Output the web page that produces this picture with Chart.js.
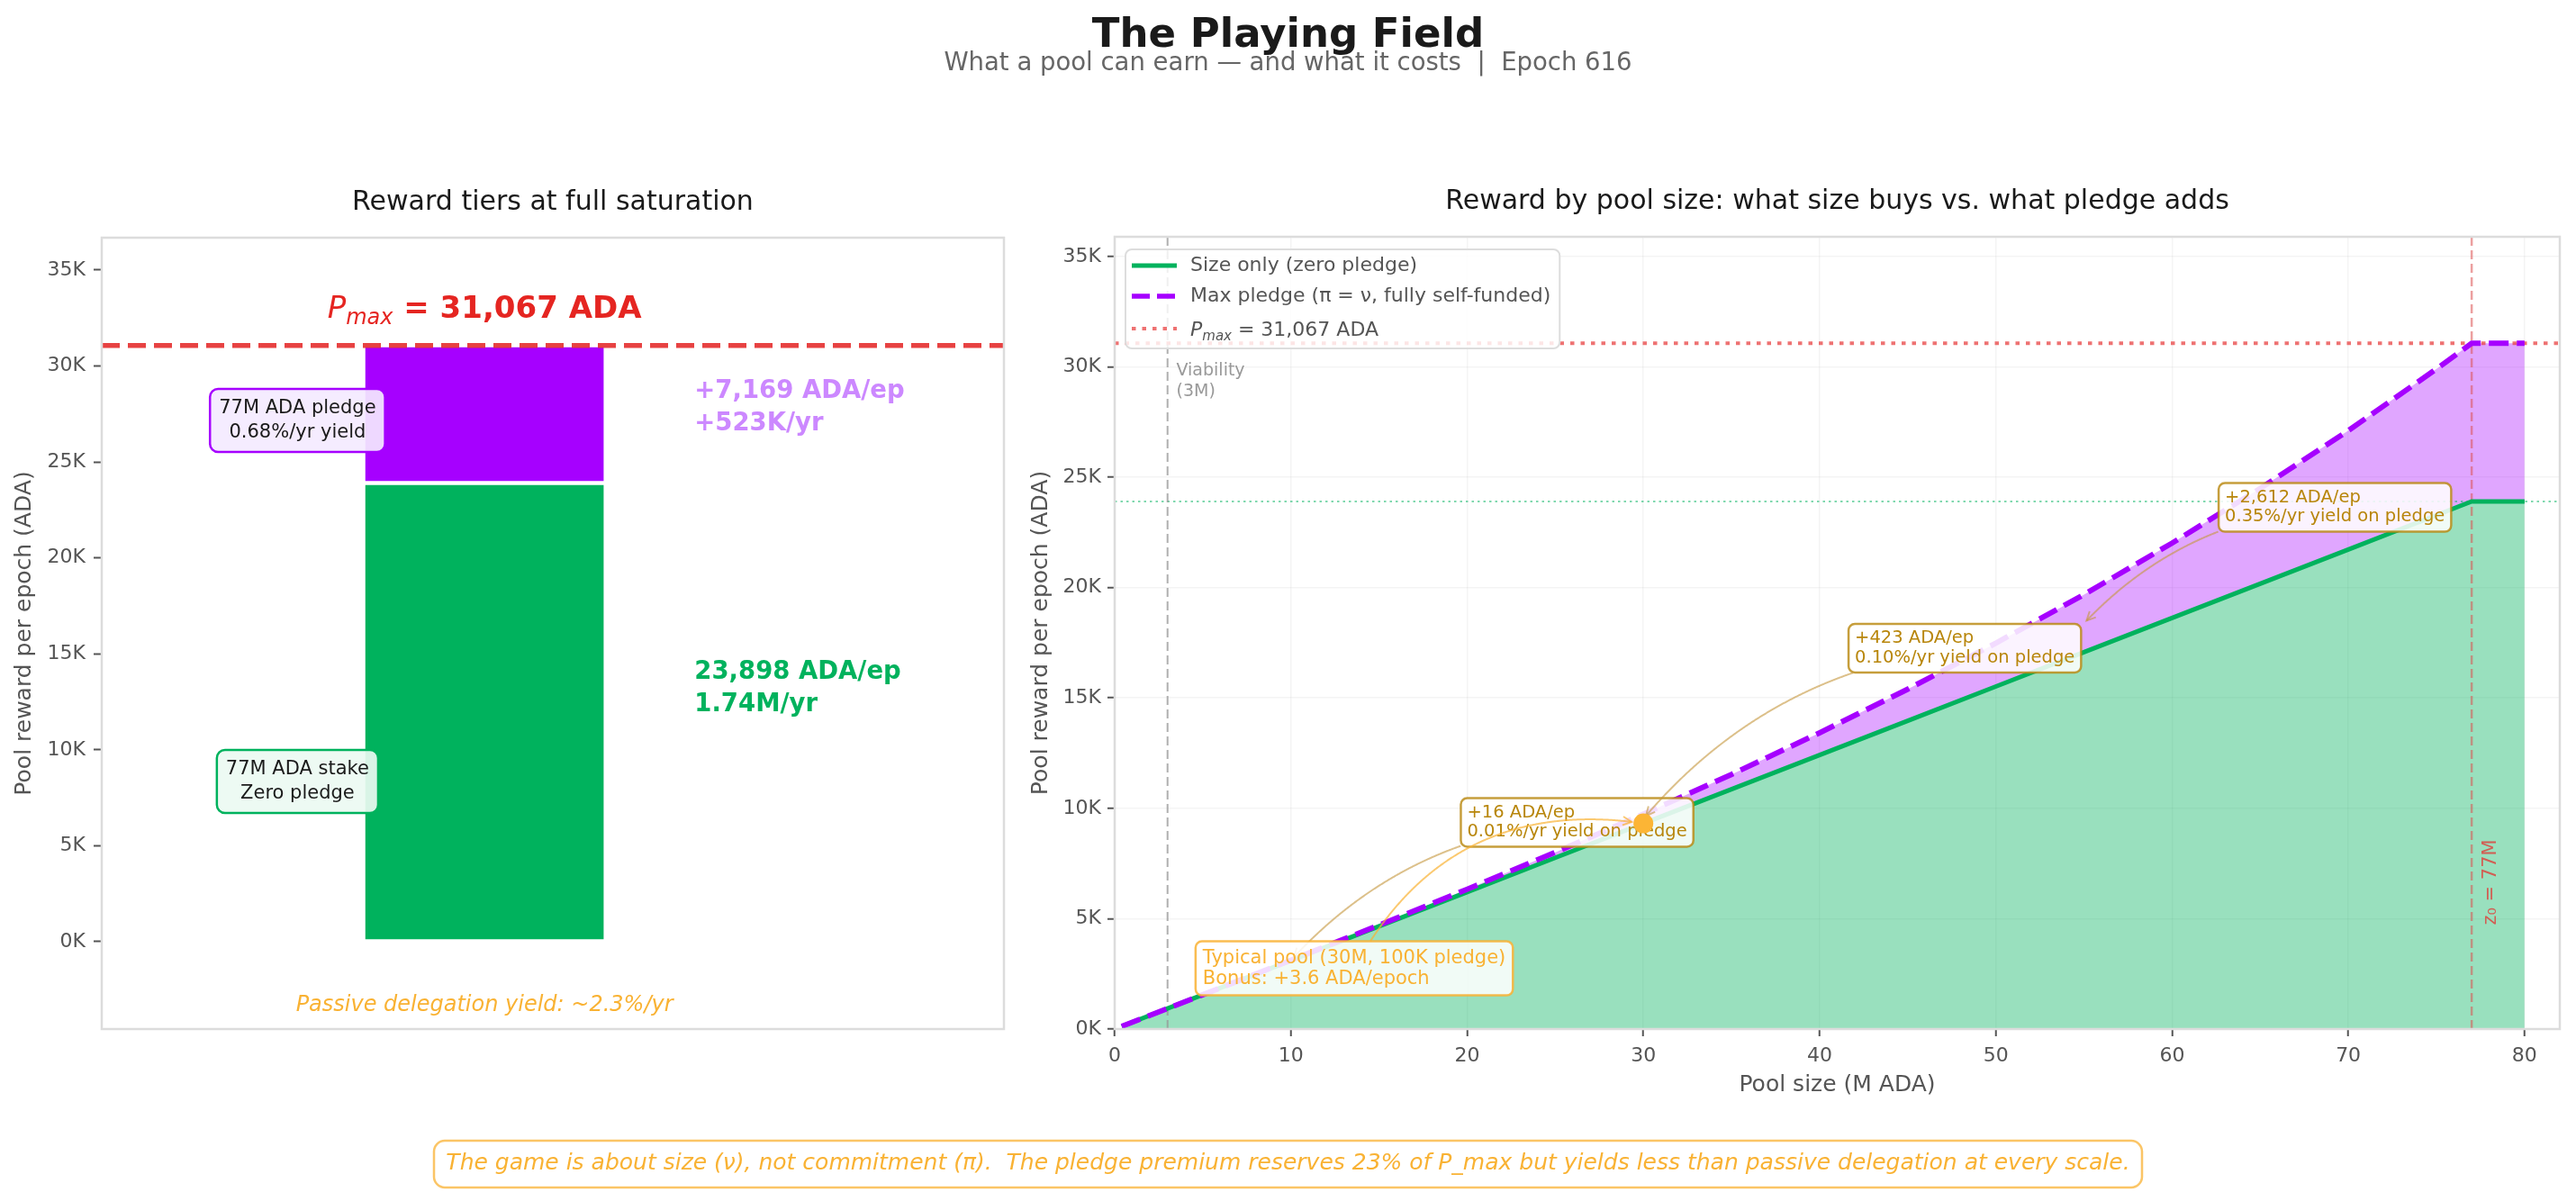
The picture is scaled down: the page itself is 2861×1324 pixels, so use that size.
<!DOCTYPE html>
<html>
<head>
<meta charset="utf-8">
<title>The Playing Field</title>
<script src="https://cdn.jsdelivr.net/npm/chart.js@4.4.1/dist/chart.umd.min.js"></script>
<style>
  html, body { margin: 0; padding: 0; background: #fff; }
  #wrap { position: relative; width: 2861px; height: 1324px; }
  canvas { position: absolute; left: 0; top: 0; }
</style>
</head>
<body>
<div id="wrap">
  <canvas id="tiers" width="2861" height="1324"></canvas>
  <canvas id="curve" width="2861" height="1324"></canvas>
</div>
<script>
// values (ADA per epoch)
const pMax = 31067;
const tierLow = [0, 23898];
const tierHigh = [23898, 31067];

// pool size (M ADA) vs reward per epoch
const poolSizeM = [0.4, 5, 10, 15, 20, 25, 30, 35, 40, 45, 50, 55, 60, 65, 70, 75, 77, 80];
const rewardSizeOnly = [124, 1552, 3104, 4655, 6207, 7759, 9311, 10863, 12414, 13966, 15518, 17070, 18622, 20174, 21725, 23277, 23898, 23898];
const rewardMaxPledge = [124, 1554, 3120, 4708, 6333, 8004, 9735, 11536, 13419, 15397, 17481, 19683, 22014, 24487, 27111, 29902, 31067, 31067];
const typicalSize = [30];
const typicalReward = [9315];
const viabilityM = 3;
const saturationM = 77;

const yTicks = [0, 5000, 10000, 15000, 20000, 25000, 30000, 35000];
const xTicks = [0, 10, 20, 30, 40, 50, 60, 70, 80];

const GREEN = '#00b25d';
const PURPLE = '#a600ff';
const ORANGE = '#f9b233';
const GOLD = '#b8860b';
const FAM = '"DejaVu Sans", sans-serif';
const f = (size, weight = 'normal', style = 'normal') => `${style} ${weight} ${size}px ${FAM}`;

// ---------- drawing helpers ----------
function roundRect(ctx, x, y, w, h, r) {
  ctx.beginPath();
  ctx.moveTo(x + r, y);
  ctx.arcTo(x + w, y, x + w, y + h, r);
  ctx.arcTo(x + w, y + h, x, y + h, r);
  ctx.arcTo(x, y + h, x, y, r);
  ctx.arcTo(x, y, x + w, y, r);
  ctx.closePath();
}

function textLines(ctx, lines, x, cy, o) {
  ctx.font = o.font;
  ctx.fillStyle = o.color;
  ctx.textAlign = o.align || 'left';
  ctx.textBaseline = 'middle';
  lines.forEach((l, i) => ctx.fillText(l, x, cy + (i - (lines.length - 1) / 2) * o.lh));
}

function noteBox(ctx, lines, x, cy, o) {
  ctx.font = o.font;
  const w = Math.max(...lines.map(l => ctx.measureText(l).width));
  const h = lines.length * o.lh;
  const left = o.align === 'center' ? x - w / 2 : x;
  const box = { x: left - o.padX, y: cy - h / 2 - o.padY, w: w + 2 * o.padX, h: h + 2 * o.padY };
  ctx.save();
  roundRect(ctx, box.x, box.y, box.w, box.h, o.r);
  ctx.fillStyle = o.fill;
  ctx.fill();
  ctx.lineWidth = o.lw;
  ctx.strokeStyle = o.edge;
  ctx.stroke();
  textLines(ctx, lines, x, cy, o);
  ctx.restore();
  return box;
}

// quadratic "arc3" arrow from box centre to target, clipped by the box
function curvedArrow(ctx, box, to, o) {
  const from = { x: box.x + box.w / 2, y: box.y + box.h / 2 };
  const dx = to.x - from.x, dy = to.y - from.y;
  const c = { x: (from.x + to.x) / 2 + o.rad * dy, y: (from.y + to.y) / 2 - o.rad * dx };
  const pts = [];
  for (let i = 0; i <= 400; i++) {
    const t = i / 400;
    const p = {
      x: (1 - t) * (1 - t) * from.x + 2 * (1 - t) * t * c.x + t * t * to.x,
      y: (1 - t) * (1 - t) * from.y + 2 * (1 - t) * t * c.y + t * t * to.y
    };
    if (p.x >= box.x && p.x <= box.x + box.w && p.y >= box.y && p.y <= box.y + box.h) continue;
    if (Math.hypot(p.x - to.x, p.y - to.y) < o.shrink) break;
    pts.push(p);
  }
  if (pts.length < 3) return;
  ctx.save();
  ctx.strokeStyle = o.color;
  ctx.lineWidth = 2;
  ctx.beginPath();
  pts.forEach((p, i) => (i ? ctx.lineTo(p.x, p.y) : ctx.moveTo(p.x, p.y)));
  ctx.stroke();
  const tip = pts[pts.length - 1], prev = pts[pts.length - 4] || pts[0];
  const ang = Math.atan2(tip.y - prev.y, tip.x - prev.x);
  ctx.beginPath();
  ctx.moveTo(tip.x - 11 * Math.cos(ang - 0.45), tip.y - 11 * Math.sin(ang - 0.45));
  ctx.lineTo(tip.x, tip.y);
  ctx.lineTo(tip.x - 11 * Math.cos(ang + 0.45), tip.y - 11 * Math.sin(ang + 0.45));
  ctx.stroke();
  ctx.restore();
}

// "P_max = ..." with italic subscript
function pmaxText(ctx, x, baseline, size, color, rest, restFont, align) {
  const parts = [
    { t: 'P', f: f(size, 'normal', 'italic'), dy: 0 },
    { t: 'max', f: f(Math.round(size * 0.7), 'normal', 'italic'), dy: size * 0.22 },
    { t: rest, f: restFont, dy: 0 }
  ];
  let w = 0;
  parts.forEach(p => { ctx.font = p.f; p.w = ctx.measureText(p.t).width; w += p.w; });
  let cx = align === 'center' ? x - w / 2 : x;
  ctx.textAlign = 'left';
  ctx.textBaseline = 'alphabetic';
  ctx.fillStyle = color;
  parts.forEach(p => { ctx.font = p.f; ctx.fillText(p.t, cx, baseline + p.dy); cx += p.w; });
}

function hline(ctx, a, py, style) {
  ctx.save();
  ctx.strokeStyle = style.color; ctx.lineWidth = style.lw; ctx.setLineDash(style.dash);
  ctx.beginPath(); ctx.moveTo(a.left, py); ctx.lineTo(a.right, py); ctx.stroke();
  ctx.restore();
}
function vline(ctx, a, px, style) {
  ctx.save();
  ctx.strokeStyle = style.color; ctx.lineWidth = style.lw; ctx.setLineDash(style.dash);
  ctx.beginPath(); ctx.moveTo(px, a.top); ctx.lineTo(px, a.bottom); ctx.stroke();
  ctx.restore();
}
function frame(ctx, a) {
  ctx.save();
  ctx.strokeStyle = '#dcdcdc'; ctx.lineWidth = 2.5;
  ctx.strokeRect(a.left, a.top, a.right - a.left, a.bottom - a.top);
  ctx.restore();
}
function panelTitle(ctx, a, text) {
  ctx.save();
  ctx.font = f(30); ctx.fillStyle = '#1a1a1a'; ctx.textAlign = 'center'; ctx.textBaseline = 'middle';
  ctx.fillText(text, (a.left + a.right) / 2, a.top - 39);
  ctx.restore();
}

const pmaxLabel = ' = ' + pMax.toLocaleString('en-US') + ' ADA';

// ---------- left: reward tiers ----------
const tiersOverlay = {
  id: 'tiersOverlay',
  afterDatasetsDraw(chart) {
    const { ctx, chartArea: a, scales: { x, y } } = chart;
    hline(ctx, a, y.getPixelForValue(pMax), { color: 'rgba(229,50,50,0.92)', lw: 5.5, dash: [20, 9] });

    ctx.save();
    pmaxText(ctx, x.getPixelForValue(0), y.getPixelForValue(pMax * 1.065) + 12, 34, '#e52521', pmaxLabel, f(34, 'bold'), 'center');

    textLines(ctx, ['+7,169 ADA/ep', '+523K/yr'], x.getPixelForValue(0.384), y.getPixelForValue(27840),
      { font: f(27.5, 'bold'), color: '#cc88ff', lh: 36 });
    textLines(ctx, ['23,898 ADA/ep', '1.74M/yr'], x.getPixelForValue(0.384), y.getPixelForValue(13180),
      { font: f(27.5, 'bold'), color: GREEN, lh: 36 });

    noteBox(ctx, ['77M ADA pledge', '0.68%/yr yield'], x.getPixelForValue(-0.342), y.getPixelForValue(27160),
      { font: f(21), color: '#1a1a1a', align: 'center', lh: 26.5, padX: 10, padY: 8.5, r: 9,
        fill: 'rgba(244,234,255,0.92)', edge: PURPLE, lw: 2.5 });
    noteBox(ctx, ['77M ADA stake', 'Zero pledge'], x.getPixelForValue(-0.342), y.getPixelForValue(8350),
      { font: f(21), color: '#1a1a1a', align: 'center', lh: 26.5, padX: 10, padY: 8.5, r: 9,
        fill: 'rgba(236,250,242,0.92)', edge: GREEN, lw: 2.5 });

    textLines(ctx, ['Passive delegation yield: ~2.3%/yr'], x.getPixelForValue(0), y.getPixelForValue(-3330),
      { font: f(24, 'normal', 'italic'), color: ORANGE, lh: 28, align: 'center' });
    ctx.restore();
  },
  afterDraw(chart) {
    const { ctx, chartArea: a } = chart;
    frame(ctx, a);
    panelTitle(ctx, a, 'Reward tiers at full saturation');

    ctx.save();
    ctx.textAlign = 'center'; ctx.textBaseline = 'alphabetic';
    ctx.font = f(45, 'bold'); ctx.fillStyle = '#1a1a1a';
    ctx.fillText('The Playing Field', 1430.5, 52);
    ctx.font = f(27.5); ctx.fillStyle = '#666';
    ctx.fillText('What a pool can earn \u2014 and what it costs  |  Epoch 616', 1430.5, 78);

    // footer note
    roundRect(ctx, 482, 1267, 1897, 52, 12);
    ctx.fillStyle = '#fff'; ctx.fill();
    ctx.lineWidth = 2.5; ctx.strokeStyle = 'rgba(249,178,51,0.75)'; ctx.stroke();
    ctx.font = f(25, 'normal', 'italic'); ctx.fillStyle = ORANGE; ctx.textBaseline = 'middle';
    ctx.fillText('The game is about size (\u03bd), not commitment (\u03c0).  The pledge premium reserves 23% of P_max but yields less than passive delegation at every scale.', 1430.5, 1292);
    ctx.restore();
  }
};

new Chart(document.getElementById('tiers'), {
  type: 'bar',
  data: {
    datasets: [
      { label: 'Zero pledge', data: [{ x: 0, y: [tierLow[0], tierHigh[0]] }], backgroundColor: GREEN,
        borderColor: '#ffffff', borderWidth: 2.5, borderSkipped: false, barThickness: 269, grouped: false },
      { label: 'Max pledge', data: [{ x: 0, y: [tierLow[1], tierHigh[1]] }], backgroundColor: PURPLE,
        borderColor: '#ffffff', borderWidth: 2.5, borderSkipped: false, barThickness: 269, grouped: false }
    ]
  },
  options: {
    responsive: false, animation: false, devicePixelRatio: 1,
    layout: { padding: { left: 0, right: 1746, top: 264, bottom: 181 } },
    plugins: { legend: { display: false }, tooltip: { enabled: false } },
    scales: {
      x: { type: 'linear', display: false, offset: false, min: -0.7, max: 0.95 },
      y: {
        min: -4550, max: 36680,
        afterFit(s) { s.width = 113; },
        afterBuildTicks(s) { s.ticks = yTicks.map(v => ({ value: v })); },
        ticks: { callback: v => v / 1000 + 'K', color: '#555', font: { family: FAM, size: 22 }, padding: 9 },
        grid: { drawOnChartArea: false, tickLength: 9, tickColor: '#555', tickWidth: 2 },
        border: { display: false },
        title: { display: true, text: 'Pool reward per epoch (ADA)', color: '#555',
          font: { family: FAM, size: 25 }, padding: { top: 12, bottom: 0 } }
      }
    }
  },
  plugins: [tiersOverlay]
});

// ---------- right: reward by pool size ----------
const pledgeNotes = [
  { lines: ['+16 ADA/ep', '0.01%/yr yield on pledge'], at: [20, 9360], target: [10, 3112], rad: -0.2,
    color: GOLD, edge: 'rgba(184,134,11,0.8)', arrow: 'rgba(196,150,60,0.6)', font: 19.5, lh: 21.5, padX: 7, padY: 5.5, shrink: 4 },
  { lines: ['Typical pool (30M, 100K pledge)', 'Bonus: +3.6 ADA/epoch'], at: [5, 2750], target: [30, 9315], rad: 0.35,
    color: ORANGE, edge: 'rgba(249,178,51,0.85)', arrow: 'rgba(249,178,51,0.7)', font: 21, lh: 23, padX: 8, padY: 7, shrink: 13 },
  { lines: ['+423 ADA/ep', '0.10%/yr yield on pledge'], at: [42, 17250], target: [30, 9522], rad: -0.2,
    color: GOLD, edge: 'rgba(184,134,11,0.8)', arrow: 'rgba(196,150,60,0.6)', font: 19.5, lh: 21.5, padX: 7, padY: 5.5, shrink: 4 },
  { lines: ['+2,612 ADA/ep', '0.35%/yr yield on pledge'], at: [63, 23630], target: [55, 18376], rad: -0.2,
    color: GOLD, edge: 'rgba(184,134,11,0.8)', arrow: 'rgba(196,150,60,0.6)', font: 19.5, lh: 21.5, padX: 7, padY: 5.5, shrink: 4 }
];

const curveOverlay = {
  id: 'curveOverlay',
  beforeDatasetsDraw(chart) {
    const { ctx, chartArea: a, scales: { x, y } } = chart;
    hline(ctx, a, y.getPixelForValue(tierHigh[0]), { color: 'rgba(0,178,93,0.5)', lw: 2, dash: [2.5, 4] });
    hline(ctx, a, y.getPixelForValue(pMax), { color: 'rgba(232,60,60,0.72)', lw: 4, dash: [4.5, 7] });
    vline(ctx, a, x.getPixelForValue(viabilityM), { color: 'rgba(150,150,150,0.75)', lw: 2, dash: [10, 5] });
    vline(ctx, a, x.getPixelForValue(saturationM), { color: 'rgba(220,80,80,0.55)', lw: 2.5, dash: [10, 5] });
  },
  afterDatasetDraw(chart, args) {
    if (chart.data.datasets[args.index].label !== 'Max pledge') return;
    const { ctx, scales: { x, y } } = chart;
    pledgeNotes.forEach(n => {
      const box = noteBox(ctx, n.lines, x.getPixelForValue(n.at[0]), y.getPixelForValue(n.at[1]),
        { font: f(n.font), color: n.color, lh: n.lh, padX: n.padX, padY: n.padY, r: 7,
          fill: 'rgba(255,255,255,0.86)', edge: n.edge, lw: 2.5 });
      curvedArrow(ctx, box, { x: x.getPixelForValue(n.target[0]), y: y.getPixelForValue(n.target[1]) },
        { rad: n.rad, color: n.arrow, shrink: n.shrink });
    });
  },
  afterDraw(chart) {
    const { ctx, chartArea: a, scales: { x, y } } = chart;
    frame(ctx, a);
    panelTitle(ctx, a, 'Reward by pool size: what size buys vs. what pledge adds');

    ctx.save();
    textLines(ctx, ['Viability', '(3M)'], x.getPixelForValue(3.5), y.getPixelForValue(29340),
      { font: f(19), color: '#999', lh: 23 });

    ctx.translate(x.getPixelForValue(78.1), y.getPixelForValue(6650));
    ctx.rotate(-Math.PI / 2);
    ctx.font = f(21); ctx.fillStyle = 'rgba(215,80,72,0.9)'; ctx.textAlign = 'center'; ctx.textBaseline = 'middle';
    ctx.fillText('z\u2080 = 77M', 0, 0);
    ctx.restore();

    // legend
    ctx.save();
    const lx = a.left + 12, ly = a.top + 14;
    ctx.font = f(22);
    const labels = ['Size only (zero pledge)', 'Max pledge (\u03c0 = \u03bd, fully self-funded)'];
    const w = Math.max(...labels.map(t => ctx.measureText(t).width));
    roundRect(ctx, lx, ly, 7 + 50 + 15 + w + 10, 110, 7);
    ctx.fillStyle = 'rgba(255,255,255,0.82)'; ctx.fill();
    ctx.strokeStyle = '#dddddd'; ctx.lineWidth = 2; ctx.stroke();
    const rows = [ly + 18, ly + 52, ly + 88];
    const samples = [
      { color: GREEN, lw: 5, dash: [] },
      { color: PURPLE, lw: 5.5, dash: [20, 8] },
      { color: 'rgba(232,60,60,0.72)', lw: 4, dash: [4.5, 7] }
    ];
    samples.forEach((s, i) => {
      ctx.strokeStyle = s.color; ctx.lineWidth = s.lw; ctx.setLineDash(s.dash);
      ctx.beginPath(); ctx.moveTo(lx + 7, rows[i]); ctx.lineTo(lx + 57, rows[i]); ctx.stroke();
    });
    ctx.setLineDash([]);
    ctx.fillStyle = '#555'; ctx.textAlign = 'left'; ctx.textBaseline = 'middle'; ctx.font = f(22);
    ctx.fillText(labels[0], lx + 72, rows[0]);
    ctx.fillText(labels[1], lx + 72, rows[1]);
    pmaxText(ctx, lx + 72, rows[2] + 8, 22, '#555', pmaxLabel, f(22), 'left');
    ctx.restore();
  }
};

new Chart(document.getElementById('curve'), {
  type: 'line',
  data: {
    datasets: [
      { label: 'Typical pool', data: typicalSize.map((v, i) => ({ x: v, y: typicalReward[i] })),
        showLine: false, pointRadius: 11, pointBackgroundColor: '#fcb535', pointBorderWidth: 0, order: 0 },
      { label: 'Max pledge', data: poolSizeM.map((v, i) => ({ x: v, y: rewardMaxPledge[i] })),
        borderColor: PURPLE, borderWidth: 6, borderDash: [22, 9], pointRadius: 0, tension: 0,
        fill: '+1', backgroundColor: 'rgba(166,0,255,0.35)', order: 1 },
      { label: 'Size only', data: poolSizeM.map((v, i) => ({ x: v, y: rewardSizeOnly[i] })),
        borderColor: GREEN, borderWidth: 5, pointRadius: 0, tension: 0,
        fill: 'origin', backgroundColor: 'rgba(0,178,93,0.4)', order: 2 }
    ]
  },
  options: {
    responsive: false, animation: false, devicePixelRatio: 1,
    layout: { padding: { left: 1128, right: 18, top: 263, bottom: 81 } },
    plugins: { legend: { display: false }, tooltip: { enabled: false }, filler: { drawTime: 'beforeDatasetsDraw' } },
    scales: {
      x: {
        type: 'linear', min: 0, max: 82,
        afterFit(s) { s.height = 100; },
        afterBuildTicks(s) { s.ticks = xTicks.map(v => ({ value: v })); },
        ticks: { color: '#555', font: { family: FAM, size: 22 }, padding: 9, maxRotation: 0 },
        grid: { color: 'rgba(0,0,0,0.045)', lineWidth: 1.5, tickLength: 8, tickColor: '#555', tickWidth: 2 },
        border: { display: false },
        title: { display: true, text: 'Pool size (M ADA)', color: '#555',
          font: { family: FAM, size: 25 }, padding: { top: 0, bottom: 23 } }
      },
      y: {
        min: 0, max: 35890,
        afterFit(s) { s.width = 110; },
        afterBuildTicks(s) { s.ticks = yTicks.map(v => ({ value: v })); },
        ticks: { callback: v => v / 1000 + 'K', color: '#555', font: { family: FAM, size: 22 }, padding: 7 },
        grid: { color: 'rgba(0,0,0,0.045)', lineWidth: 1.5, tickLength: 8, tickColor: '#555', tickWidth: 2 },
        border: { display: false },
        title: { display: true, text: 'Pool reward per epoch (ADA)', color: '#555',
          font: { family: FAM, size: 25 }, padding: { top: 13, bottom: 0 } }
      }
    }
  },
  plugins: [curveOverlay]
});
</script>
</body>
</html>
